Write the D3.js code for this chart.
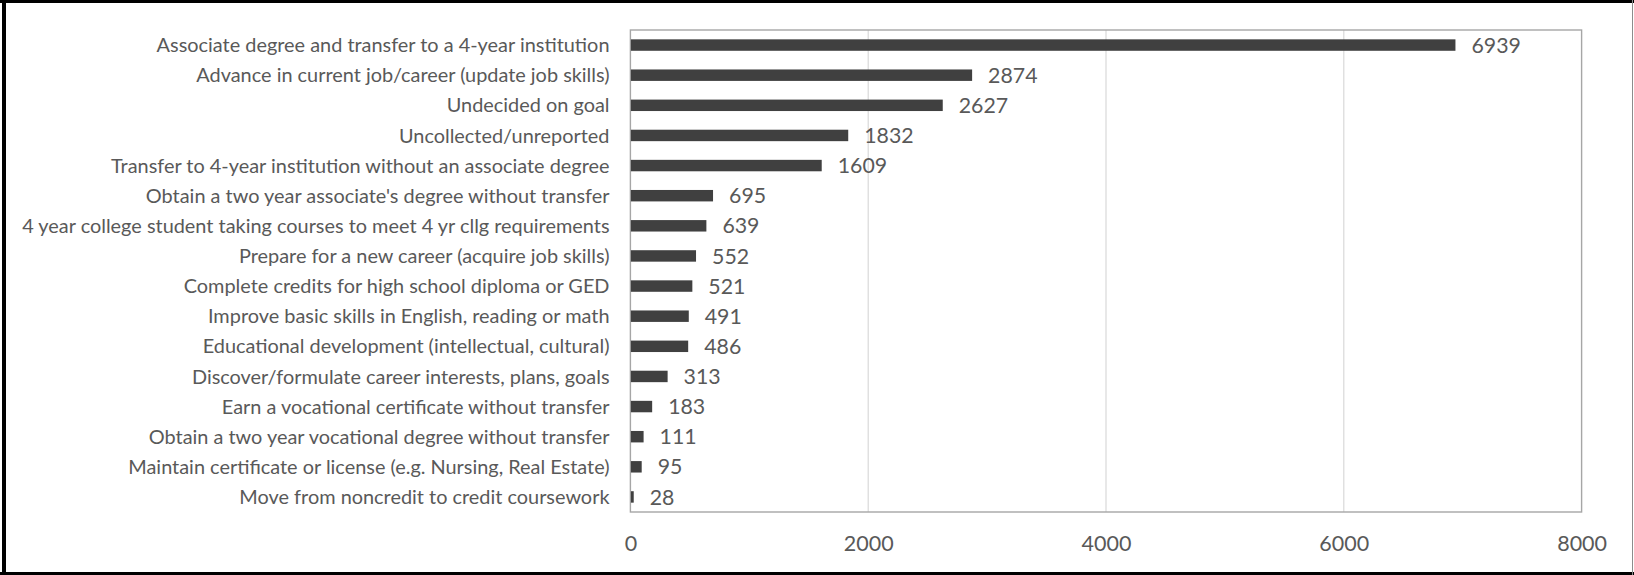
<!DOCTYPE html>
<html>
<head>
<meta charset="utf-8">
<script src="https://cdn.jsdelivr.net/npm/d3@7"></script>
<style>
  html, body { margin: 0; padding: 0; background: #fff; }
  svg { display: block; }
  text { font-family: Lato, "Open Sans", sans-serif; fill: #595959; }
</style>
</head>
<body>
<svg id="chart" width="1634" height="575"></svg>
<script>
// Student goals, by headcount
const categories = [
  "Associate degree and transfer to a 4-year institution",
  "Advance in current job/career (update job skills)",
  "Undecided on goal",
  "Uncollected/unreported",
  "Transfer to 4-year institution without an associate degree",
  "Obtain a two year associate's degree without transfer",
  "4 year college student taking courses to meet 4 yr cllg requirements",
  "Prepare for a new career (acquire job skills)",
  "Complete credits for high school diploma or GED",
  "Improve basic skills in English, reading or math",
  "Educational development (intellectual, cultural)",
  "Discover/formulate career interests, plans, goals",
  "Earn a vocational certificate without transfer",
  "Obtain a two year vocational degree without transfer",
  "Maintain certificate or license (e.g. Nursing, Real Estate)",
  "Move from noncredit to credit coursework"
];
const values = [6939, 2874, 2627, 1832, 1609, 695, 639, 552, 521, 491, 486, 313, 183, 111, 95, 28];
const tickValues = [0, 2000, 4000, 6000, 8000];

const W = 1634, H = 575;
const plot = { left: 630.4, right: 1581.6, top: 30, bottom: 512 };

const svg = d3.select("#chart");

// outer frame
svg.append("rect").attr("x", 0).attr("y", 0).attr("width", W).attr("height", H).attr("fill", "#fff");
svg.append("line").attr("x1", 4).attr("x2", 4).attr("y1", 0).attr("y2", H)
  .attr("stroke", "#000").attr("stroke-width", 4);
svg.append("line").attr("x1", 0).attr("x2", W).attr("y1", 1.5).attr("y2", 1.5)
  .attr("stroke", "#000").attr("stroke-width", 3);
svg.append("line").attr("x1", 0).attr("x2", W).attr("y1", 573.5).attr("y2", 573.5)
  .attr("stroke", "#000").attr("stroke-width", 3);
svg.append("line").attr("x1", 1632.5).attr("x2", 1632.5).attr("y1", 0).attr("y2", H)
  .attr("stroke", "#8c8c8c").attr("stroke-width", 1);

const x = d3.scaleLinear().domain([0, 8000]).range([plot.left, plot.right]);
const y = d3.scaleBand().domain(categories).range([plot.top, plot.bottom])
  .paddingInner(0.62).paddingOuter(0.31);

// vertical gridlines
svg.append("g").selectAll("line")
  .data(tickValues.filter(t => t > 0 && t < 8000))
  .join("line")
  .attr("x1", d => x(d)).attr("x2", d => x(d))
  .attr("y1", plot.top).attr("y2", plot.bottom)
  .attr("stroke", "#d9d9d9").attr("stroke-width", 1.2);

// plot area border
svg.append("rect")
  .attr("x", plot.left).attr("y", plot.top)
  .attr("width", plot.right - plot.left).attr("height", plot.bottom - plot.top)
  .attr("fill", "none").attr("stroke", "#a6a6a6").attr("stroke-width", 1.4);

// bars
svg.append("g").selectAll("rect")
  .data(values)
  .join("rect")
  .attr("x", x(0) + 0.5)
  .attr("y", (d, i) => y(categories[i]))
  .attr("width", d => Math.max(0, x(d) - x(0) - 0.5))
  .attr("height", y.bandwidth())
  .attr("fill", "#404040");

// value labels
svg.append("g").selectAll("text")
  .data(values)
  .join("text")
  .attr("x", d => x(d) + 16)
  .attr("y", (d, i) => y(categories[i]) + y.bandwidth() / 2)
  .attr("dy", "0.36em")
  .style("font-size", "21.3px")
  .text(d => d);

// category labels
svg.append("g").selectAll("text")
  .data(categories)
  .join("text")
  .attr("x", 609.5)
  .attr("y", d => y(d) + y.bandwidth() / 2)
  .attr("dy", "0.36em")
  .attr("text-anchor", "end")
  .style("font-size", "19.9px")
  .text(d => d);

// x axis tick labels
const axis = d3.axisBottom(x).tickValues(tickValues).tickSize(0).tickFormat(d3.format("d"));
const gx = svg.append("g").attr("transform", `translate(0,${plot.bottom})`).call(axis);
gx.select(".domain").remove();
gx.selectAll("text")
  .attr("y", 31).attr("dy", "0.36em")
  .style("font-size", "21.5px")
  .style("font-family", "Lato, 'Open Sans', sans-serif")
  .attr("fill", "#595959");
</script>
</body>
</html>
